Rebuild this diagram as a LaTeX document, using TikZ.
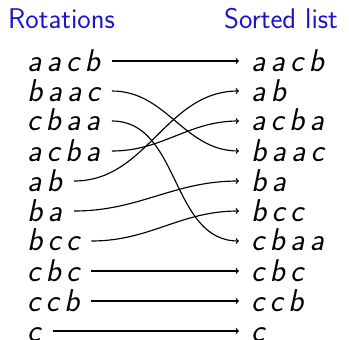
\documentclass[tikz,border=0pt]{standalone}
\usepackage{tikz}
\usepackage{xcolor}
\definecolor{headblue}{RGB}{25,20,205}

\begin{document}
\begin{tikzpicture}[x=1pt,y=1pt,
    word/.style={inner xsep=12pt,inner ysep=0pt,text height=22pt,text depth=2pt,
                 font=\fontsize{31.5}{36}\selectfont\sffamily\itshape},
    head/.style={inner sep=0pt,anchor=base west,text=headblue,
                 font=\fontsize{28.5}{34}\selectfont\sffamily},
    conn/.style={->,line width=1.15pt}]
    \useasboundingbox (0,0) rectangle (349,-340);
    \node[head] (rot) at (8,-28) {Rotations};
    \node[head] (sorted) at (224,-28) {Sorted list};
    % rotations
    \foreach \i/\w in {1/{a\,a\,c\,b},2/{b\,a\,a\,c},3/{c\,b\,a\,a},4/{a\,c\,b\,a},5/{a\,b},
                       6/{b\,a},7/{b\,c\,c},8/{c\,b\,c},9/{c\,c\,b},10/{c}}
        \node[word,anchor=west] (l\i) at (15,{-61-30*(\i-1)}) {\w};
    % sorted list
    \foreach \i/\w in {1/{a\,a\,c\,b},2/{a\,b},3/{a\,c\,b\,a},4/{b\,a\,a\,c},5/{b\,a},
                       6/{b\,c\,c},7/{c\,b\,a\,a},8/{c\,b\,c},9/{c\,c\,b},10/{c}}
        \node[word,anchor=west] (r\i) at (239,{-61-30*(\i-1)}) {\w};
    \foreach \a in {1,8,9,10}
        \draw[conn] (l\a) -- (r\a);
    \foreach \a/\b in {2/4,3/7,4/3,5/2,6/5,7/6}
        \draw[conn] (l\a.east) to[out=0,in=180] (r\b.west);
\end{tikzpicture}
\end{document}
